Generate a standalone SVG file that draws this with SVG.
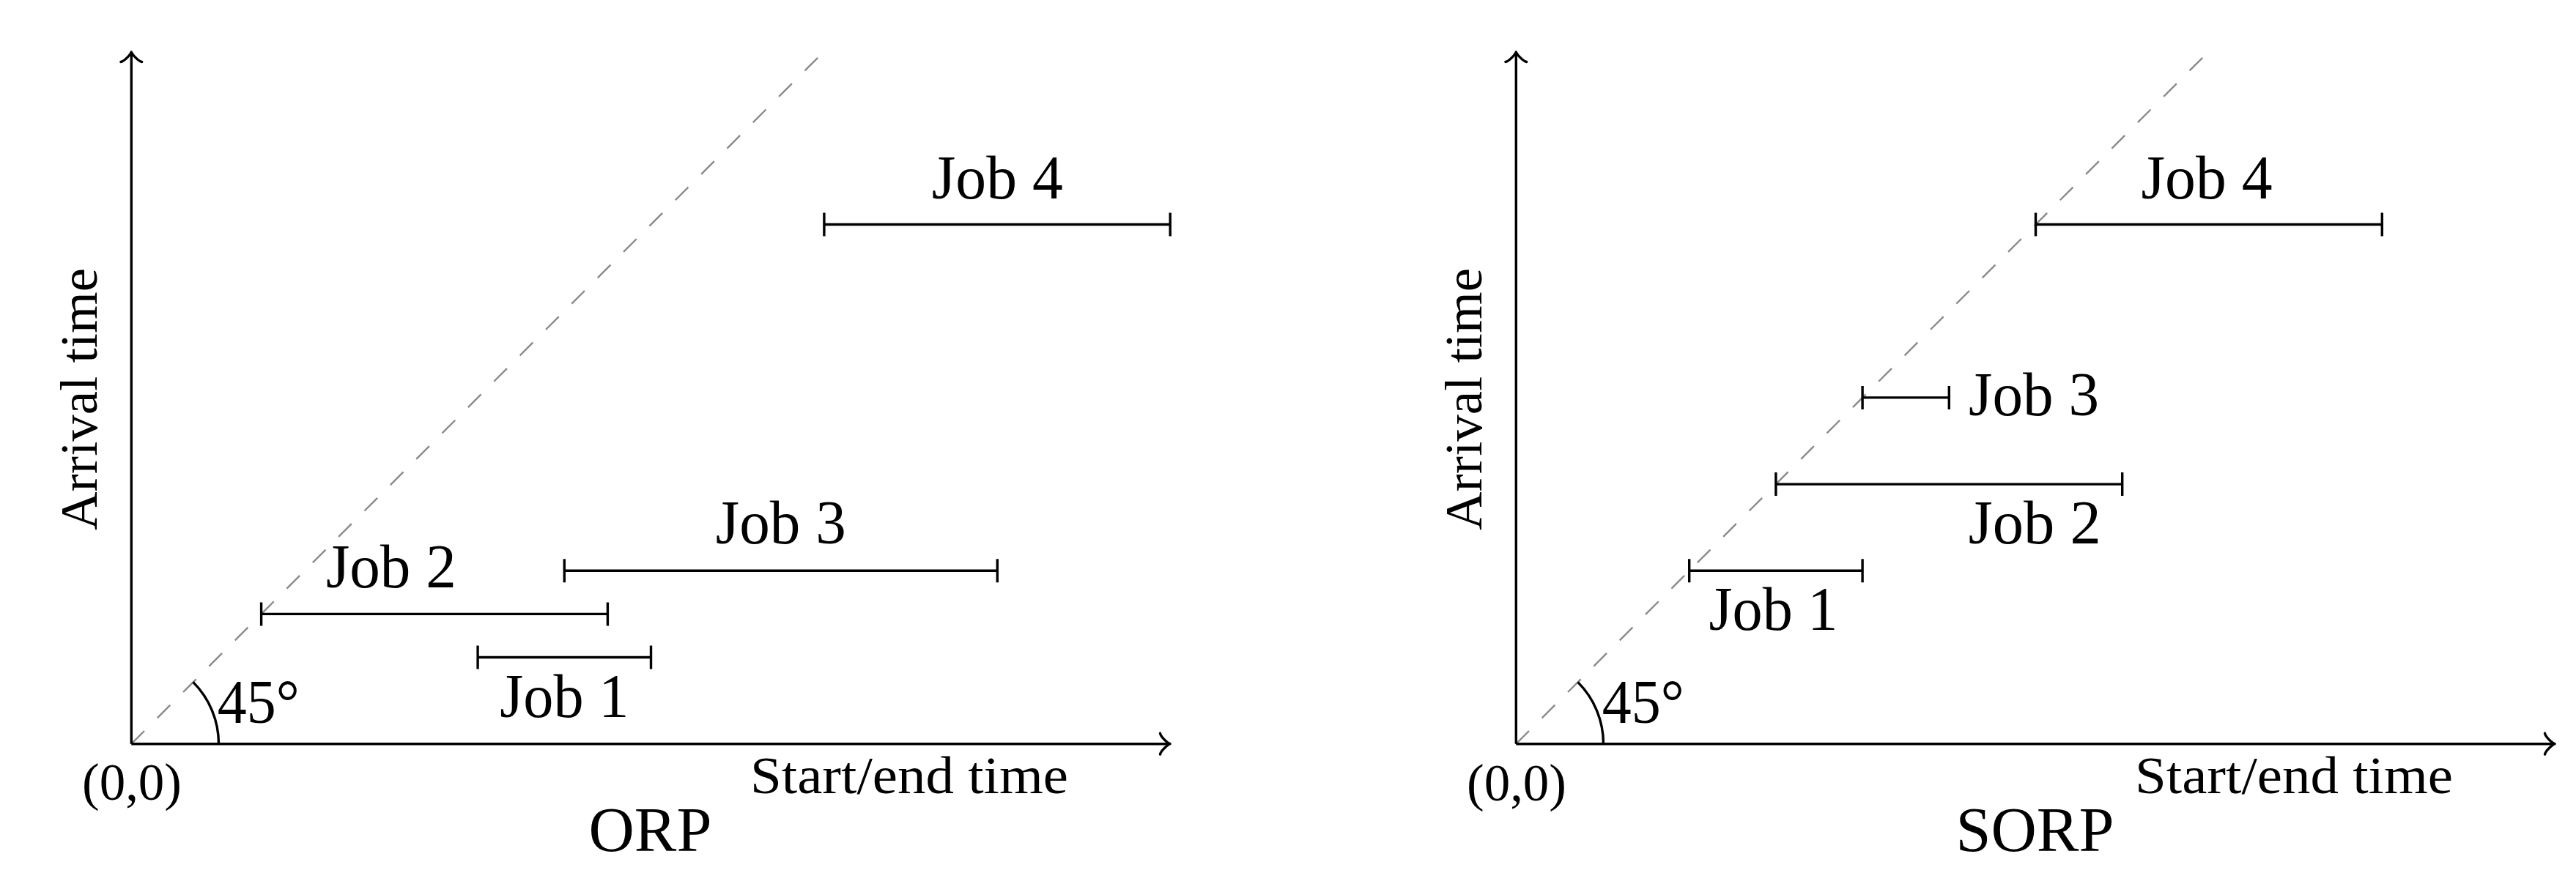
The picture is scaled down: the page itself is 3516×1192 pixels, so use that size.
<svg xmlns="http://www.w3.org/2000/svg" xmlns:xlink="http://www.w3.org/1999/xlink" width="3516" height="1192" viewBox="0 0 3516 1192">
<style>
.ax{stroke:#000;stroke-width:3.4;fill:none;stroke-linecap:butt}
.tip{stroke:#000;stroke-width:3.4;fill:none;stroke-linecap:round;stroke-linejoin:round}
.diag{stroke:#8a8a8a;stroke-width:2.4;fill:none;stroke-dasharray:25 25}
.bar{stroke:#000;stroke-width:3.4;fill:none}
.lbl{font-family:"Liberation Serif","Times New Roman",serif;font-size:84px;fill:#000}
.sm{font-family:"Liberation Serif","Times New Roman",serif;font-size:72px;fill:#000}
.ttl{font-family:"Liberation Serif","Times New Roman",serif;font-size:86px;fill:#000}
</style>
<defs>
<path id="tipR" d="M-13.5,-14.4 C-12.6,-9 -2.7,-0.9 0,0 C-2.7,0.9 -12.6,9 -13.5,14.4"/>
</defs>
<rect width="3516" height="1192" fill="#fff"/>

<!-- ORP plot -->
<g id="orp">
  <g id="orp-axes">
    <line class="diag" x1="179.3" y1="1015.7" x2="1121.3" y2="73.7"/>
    <line class="ax" x1="179.3" y1="1015.7" x2="179.3" y2="72"/>
    <line class="ax" x1="179.3" y1="1015.7" x2="1596" y2="1015.7"/>
    <use href="#tipR" class="tip" transform="translate(179.3,71) rotate(-90)"/>
    <use href="#tipR" class="tip" transform="translate(1597,1015.7)"/>
    <path class="ax" d="M298.5,1015.7 A119.2,119.2 0 0 0 263.6,931.4"/>
    <text class="lbl" x="296.7" y="986.7" textLength="112" lengthAdjust="spacingAndGlyphs">45°</text>
    <text class="sm" x="180" y="1092" text-anchor="middle" textLength="136" lengthAdjust="spacingAndGlyphs">(0,0)</text>
    <text class="sm" x="1241" y="1083" text-anchor="middle" textLength="434" lengthAdjust="spacingAndGlyphs">Start/end time</text>
    <text class="sm" transform="translate(131.7,545) rotate(-90)" text-anchor="middle" textLength="358" lengthAdjust="spacingAndGlyphs">Arrival time</text>
    <text class="ttl" x="887.5" y="1161.7" text-anchor="middle" textLength="168" lengthAdjust="spacingAndGlyphs">ORP</text>
  </g>
  <g id="orp-job1">
    <path class="bar" d="M652.1,897.5 H888.5 M652.1,881.5 V913.5 M888.5,881.5 V913.5"/>
    <text class="lbl" x="770.3" y="979.3" text-anchor="middle" textLength="176" lengthAdjust="spacingAndGlyphs">Job 1</text>
  </g>
  <g id="orp-job2">
    <path class="bar" d="M356.6,838.4 H829.4 M356.6,822.4 V854.4 M829.4,822.4 V854.4"/>
    <text class="lbl" x="533.9" y="801.7" text-anchor="middle" textLength="178" lengthAdjust="spacingAndGlyphs">Job 2</text>
  </g>
  <g id="orp-job3">
    <path class="bar" d="M770.3,779.3 H1361.3 M770.3,763.3 V795.3 M1361.3,763.3 V795.3"/>
    <text class="lbl" x="1065.8" y="741.7" text-anchor="middle" textLength="178" lengthAdjust="spacingAndGlyphs">Job 3</text>
  </g>
  <g id="orp-job4">
    <path class="bar" d="M1124.9,306.5 H1597.2 M1124.9,290.5 V322.5 M1597.2,290.5 V322.5"/>
    <text class="lbl" x="1361.3" y="270.7" text-anchor="middle" textLength="179" lengthAdjust="spacingAndGlyphs">Job 4</text>
  </g>
</g>

<!-- SORP plot -->
<g id="sorp">
  <g id="sorp-axes">
    <line class="diag" x1="2069.3" y1="1015.7" x2="3011.3" y2="73.7"/>
    <line class="ax" x1="2069.3" y1="1015.7" x2="2069.3" y2="72"/>
    <line class="ax" x1="2069.3" y1="1015.7" x2="3486" y2="1015.7"/>
    <use href="#tipR" class="tip" transform="translate(2069.3,71) rotate(-90)"/>
    <use href="#tipR" class="tip" transform="translate(3487,1015.7)"/>
    <path class="ax" d="M2188.5,1015.7 A119.2,119.2 0 0 0 2153.6,931.4"/>
    <text class="lbl" x="2186.7" y="986.7" textLength="112" lengthAdjust="spacingAndGlyphs">45°</text>
    <text class="sm" x="2070" y="1093" text-anchor="middle" textLength="136" lengthAdjust="spacingAndGlyphs">(0,0)</text>
    <text class="sm" x="3131" y="1083" text-anchor="middle" textLength="434" lengthAdjust="spacingAndGlyphs">Start/end time</text>
    <text class="sm" transform="translate(2021.7,545) rotate(-90)" text-anchor="middle" textLength="358" lengthAdjust="spacingAndGlyphs">Arrival time</text>
    <text class="ttl" x="2777.5" y="1161.7" text-anchor="middle" textLength="216" lengthAdjust="spacingAndGlyphs">SORP</text>
  </g>
  <g id="sorp-job1">
    <path class="bar" d="M2305.7,779.3 H2542.1 M2305.7,763.3 V795.3 M2542.1,763.3 V795.3"/>
    <text class="lbl" x="2420.5" y="860" text-anchor="middle" textLength="176" lengthAdjust="spacingAndGlyphs">Job 1</text>
  </g>
  <g id="sorp-job2">
    <path class="bar" d="M2423.9,661.1 H2896.7 M2423.9,645.1 V677.1 M2896.7,645.1 V677.1"/>
    <text class="lbl" x="2777.3" y="741.7" text-anchor="middle" textLength="181" lengthAdjust="spacingAndGlyphs">Job 2</text>
  </g>
  <g id="sorp-job3">
    <path class="bar" d="M2542.1,542.9 H2660.3 M2542.1,526.9 V558.9 M2660.3,526.9 V558.9"/>
    <text class="lbl" x="2776" y="567.3" text-anchor="middle" textLength="178" lengthAdjust="spacingAndGlyphs">Job 3</text>
  </g>
  <g id="sorp-job4">
    <path class="bar" d="M2778.5,306.5 H3251.3 M2778.5,290.5 V322.5 M3251.3,290.5 V322.5"/>
    <text class="lbl" x="3012" y="270.7" text-anchor="middle" textLength="179" lengthAdjust="spacingAndGlyphs">Job 4</text>
  </g>
</g>
</svg>
